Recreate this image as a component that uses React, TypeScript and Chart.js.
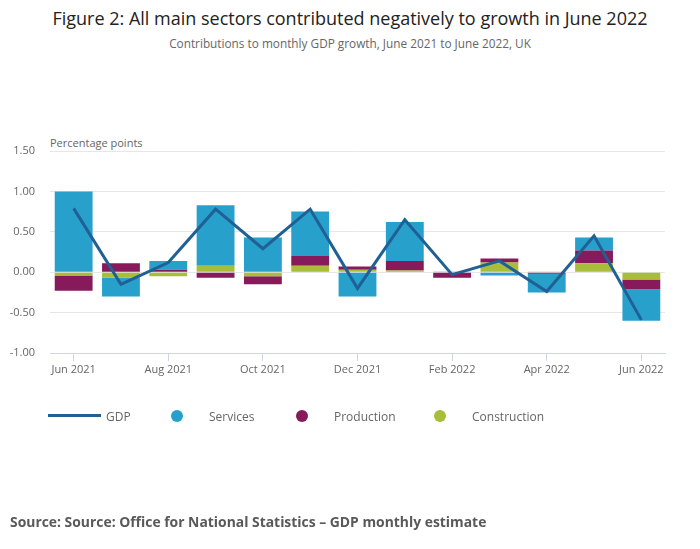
import React, { useEffect, useRef } from "react";
import { Chart, registerables } from "chart.js";

Chart.register(...registerables);

const categories = [
  "Jun 2021", "Jul 2021", "Aug 2021", "Sep 2021", "Oct 2021", "Nov 2021", "Dec 2021",
  "Jan 2022", "Feb 2022", "Mar 2022", "Apr 2022", "May 2022", "Jun 2022",
];
const gdp = [0.79, -0.15, 0.12, 0.78, 0.29, 0.78, -0.2, 0.65, -0.03, 0.14, -0.24, 0.45, -0.59];
const services = [1.0, -0.23, 0.11, 0.75, 0.43, 0.55, -0.3, 0.48, 0.01, -0.04, -0.23, 0.16, -0.39];
const production = [-0.19, 0.11, 0.03, -0.07, -0.1, 0.12, 0.04, 0.12, -0.07, 0.05, -0.02, 0.16, -0.12];
const construction = [-0.04, -0.07, -0.05, 0.08, -0.05, 0.08, 0.03, 0.02, 0.0, 0.12, 0.01, 0.11, -0.09];
const yTicks = [-1, -0.5, 0, 0.5, 1, 1.5];

const colors = {
  gdp: "#206095",
  services: "#27a0cc",
  production: "#871a5b",
  construction: "#a8bd3a",
};

const font = "'Open Sans', sans-serif";

const App = () => {
  const canvasRef = useRef<HTMLCanvasElement>(null);
  const chartRef = useRef<Chart | null>(null);

  useEffect(() => {
    document.body.style.margin = "0";
    if (chartRef.current) chartRef.current.destroy();
    const ctx = canvasRef.current!.getContext("2d")!;
    chartRef.current = new Chart(ctx, {
      type: "bar",
      data: {
        labels: categories,
        datasets: [
          {
            type: "line",
            label: "GDP",
            data: gdp,
            borderColor: colors.gdp,
            backgroundColor: colors.gdp,
            borderWidth: 3,
            pointRadius: 0,
            tension: 0,
            stack: "gdp",
          } as any,
          {
            label: "Construction",
            data: construction,
            backgroundColor: colors.construction,
            stack: "sectors",
            barPercentage: 0.8,
            categoryPercentage: 1,
          },
          {
            label: "Production",
            data: production,
            backgroundColor: colors.production,
            stack: "sectors",
            barPercentage: 0.8,
            categoryPercentage: 1,
          },
          {
            label: "Services",
            data: services,
            backgroundColor: colors.services,
            stack: "sectors",
            barPercentage: 0.8,
            categoryPercentage: 1,
          },
        ],
      },
      options: {
        animation: false,
        responsive: true,
        maintainAspectRatio: false,
        layout: { padding: { top: 151, left: 0, right: 35, bottom: 166 } },
        plugins: { legend: { display: false }, tooltip: { enabled: false } },
        scales: {
          x: {
            stacked: true,
            afterFit: (scale: any) => {
              scale.height = 30;
            },
            grid: {
              offset: false,
              drawOnChartArea: false,
              drawTicks: true,
              tickLength: 8,
              color: "#ccd6eb",
            },
            border: { display: true, color: "#ccd6eb" },
            ticks: {
              autoSkip: false,
              maxRotation: 0,
              padding: 2,
              color: "#666666",
              font: { family: font, size: 11 },
              callback: (_v: any, i: number) => (i % 2 === 0 ? categories[i] : null),
            },
          },
          y: {
            stacked: true,
            min: yTicks[0],
            max: yTicks[yTicks.length - 1],
            afterFit: (scale: any) => {
              scale.width = 50;
            },
            afterBuildTicks: (scale: any) => {
              scale.ticks = yTicks.map((v) => ({ value: v }));
            },
            grid: { color: "#e6e6e6", drawTicks: false },
            border: { display: false },
            ticks: {
              padding: 15,
              color: "#666666",
              font: { family: font, size: 11 },
              callback: (v: any) => Number(v).toFixed(2),
            },
          },
        },
      },
    });
    return () => {
      if (chartRef.current) {
        chartRef.current.destroy();
        chartRef.current = null;
      }
    };
  }, []);

  const legendText: React.CSSProperties = {
    position: "absolute",
    top: 409,
    lineHeight: "16px",
    fontSize: 12,
    color: "#666666",
  };
  const dot = (left: number, color: string): React.CSSProperties => ({
    position: "absolute",
    left: left - 6,
    top: 410,
    width: 12,
    height: 12,
    borderRadius: 6,
    background: color,
  });

  return (
    <div style={{ position: "absolute", left: 0, top: 0, width: 700, height: 549, fontFamily: font, background: "#fff" }}>
      <div style={{ position: "absolute", left: 0, top: 6, width: 700, textAlign: "center", fontSize: 18, lineHeight: "24px", color: "#222222" }}>
        Figure 2: All main sectors contributed negatively to growth in June 2022
      </div>
      <div style={{ position: "absolute", left: 0, top: 35, width: 700, textAlign: "center", fontSize: 11.8, lineHeight: "16px", color: "#666666" }}>
        Contributions to monthly GDP growth, June 2021 to June 2022, UK
      </div>
      <div style={{ position: "absolute", left: 50, top: 135, fontSize: 11, lineHeight: "16px", color: "#666666" }}>
        Percentage points
      </div>
      <div style={{ position: "absolute", left: 0, top: 0, width: 700, height: 549 }}>
        <canvas ref={canvasRef} />
      </div>
      <div style={{ position: "absolute", left: 48, top: 414, width: 53, height: 3, background: colors.gdp }} />
      <div style={{ ...legendText, left: 106 }}>GDP</div>
      <div style={dot(177, colors.services)} />
      <div style={{ ...legendText, left: 209 }}>Services</div>
      <div style={dot(302, colors.production)} />
      <div style={{ ...legendText, left: 334 }}>Production</div>
      <div style={dot(440, colors.construction)} />
      <div style={{ ...legendText, left: 472 }}>Construction</div>
      <div style={{ position: "absolute", left: 10, top: 512, fontSize: 13.9, fontWeight: 700, lineHeight: "20px", color: "#595959" }}>
        Source: Source: Office for National Statistics – GDP monthly estimate
      </div>
    </div>
  );
};

export default App;
